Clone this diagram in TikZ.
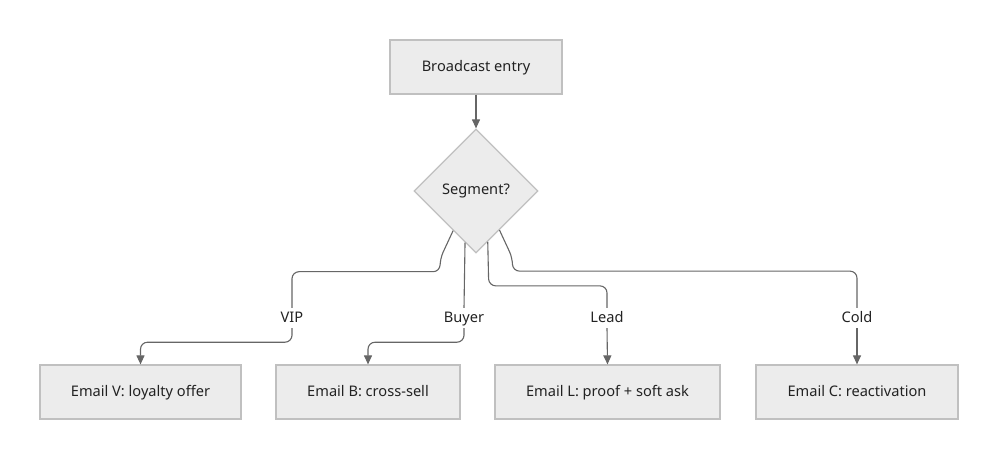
\documentclass[tikz,border=0pt]{standalone}
\usepackage{fontspec}
\setmainfont{Noto Sans}
\usepackage{xcolor}
\usepackage{tikz}
\usetikzlibrary{shapes.geometric, arrows.meta, positioning}
\definecolor{boxfill}{RGB}{236, 236, 236}
\definecolor{boxline}{RGB}{192, 192, 192}
\definecolor{edgegray}{RGB}{102, 102, 102}
\definecolor{textdark}{RGB}{34, 34, 34}

\begin{document}
\begin{tikzpicture}[x=1pt, y=1pt,
    every node/.style={font=\fontsize{14.6}{17}\selectfont, text=textdark},
    stepbox/.style={rectangle, draw=boxline, fill=boxfill, line width=1.2pt, minimum height=54pt, text height=11pt, text depth=3pt},
    decision/.style={diamond, draw=boxline, fill=boxfill, line width=1.2pt, minimum width=124pt, minimum height=124pt, inner sep=0pt},
    edgelabel/.style={inner sep=3pt, text height=11pt, text depth=3pt},
    edge/.style={draw=edgegray, line width=1.1pt, rounded corners=7pt},
    arrow/.style={edge, -{Triangle[length=9pt, width=8pt]}}]
\useasboundingbox (0,0) rectangle (998,-459);

% Top of the flow
\node[stepbox, minimum width=172pt] (entry) at (476,-67) {Broadcast entry};
\node[decision] (seg) at (476,-191) {Segment?};
\draw[arrow] (entry.south) -- (seg.north);

% Emails
\node[stepbox, minimum width=201pt] (emailv) at (140.5,-392) {Email V: loyalty offer};
\node[stepbox, minimum width=184pt] (emailb) at (368,-392) {Email B: cross-sell};
\node[stepbox, minimum width=225pt] (emaill) at (607.5,-392) {Email L: proof + soft ask};
\node[stepbox, minimum width=202pt] (emailc) at (857,-392) {Email C: reactivation};

% Branch labels
\node[edgelabel] (lvip) at (292,-318) {VIP};
\node[edgelabel] (lbuyer) at (464,-318) {Buyer};
\node[edgelabel] (llead) at (607,-318) {Lead};
\node[edgelabel] (lcold) at (857,-318) {Cold};

% Branches
\draw[edge] (seg.240) -- ++(-13,-28) -- ++(0,-13) -| (lvip.north);
\draw[arrow] (lvip.south) -- ++(0,-14) -| (emailv.north);
\draw[edge] (seg.258) -- (lbuyer.north);
\draw[arrow] (lbuyer.south) -- ++(0,-14) -| (emailb.north);
\draw[edge] (seg.283) -- ++(1,-44) -| (llead.north);
\draw[arrow] (llead.south) -- (emaill.north);
\draw[edge] (seg.301) -- ++(13,-28) -- ++(0,-13) -| (lcold.north);
\draw[arrow] (lcold.south) -- (emailc.north);
\end{tikzpicture}
\end{document}
